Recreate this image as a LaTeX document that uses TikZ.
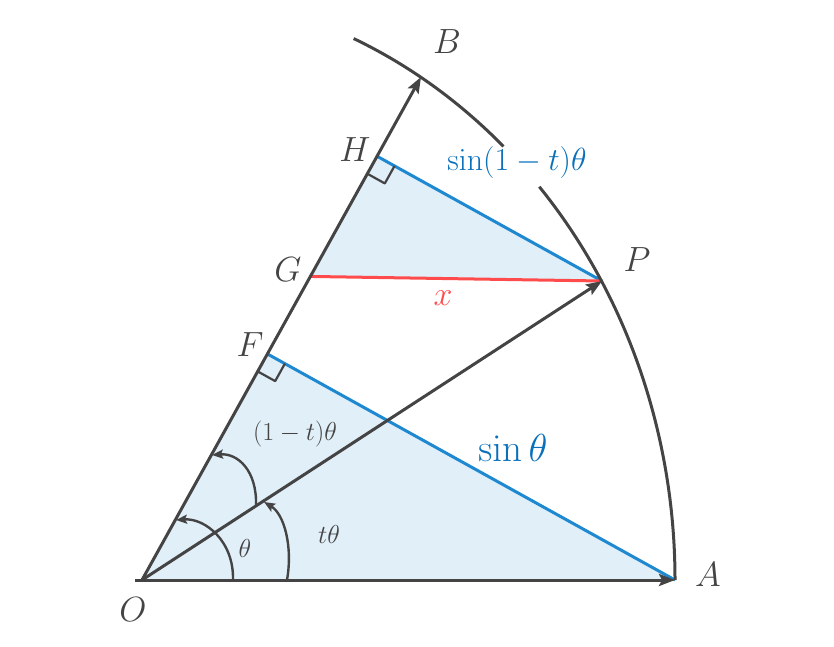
\documentclass[tikz,border=0pt]{standalone}
\usepackage{fix-cm}
\usepackage{amsmath}
\usetikzlibrary{arrows.meta,calc}

\definecolor{linegray}{HTML}{444444}
\definecolor{lineblue}{HTML}{1E88D0}
\definecolor{textblue}{HTML}{0A70BA}
\definecolor{linered}{HTML}{FF4B4B}
\definecolor{shadeblue}{HTML}{E1EFF9}

\tikzset{
	bigtip/.style={-{Stealth[length=16pt, width=12pt, inset=3pt]}},
	smalltip/.style={-{Stealth[length=11pt, width=9pt, inset=2pt]}},
	ptlabel/.style={text=linegray, font=\fontsize{35}{40}\selectfont},
	anglabel/.style={text=linegray, font=\fontsize{26}{30}\selectfont}
}

\begin{document}
\begin{tikzpicture}[x=1pt, y=1pt, line join=round]
		\useasboundingbox (0,0) rectangle (834,646);
		
		% points
		\coordinate (O) at (142,66);
		\coordinate (A) at (675,66);
		\coordinate (B) at (421,569);
		\coordinate (P) at (602,365);
		\coordinate (F) at ($(O)!(A)!(B)$);
		\coordinate (H) at ($(O)!(P)!(B)$);
		\coordinate (G) at ($(O)!0.6035!(B)$);
		\coordinate (Ostart) at (135,66);
		
		% shaded triangles
		\path[fill=shadeblue] (O) -- (F) -- (A) -- cycle;
		\path[fill=shadeblue] (H) -- (P) -- (G) -- cycle;
		
		% perpendiculars
		\draw[lineblue, line width=3pt] (F) -- (A);
		\draw[lineblue, line width=3pt] (H) -- (P);
		\draw[linered, line width=3pt] (G) -- (P);
		
		% right angle marks
		\coordinate (f1) at ($(F)!20pt!(O)$);
		\coordinate (f2) at ($(F)!20pt!(A)$);
		\draw[linegray, line width=2.2pt] (f1) -- ($(f1)+(f2)-(F)$) -- (f2);
		\coordinate (h1) at ($(H)!20pt!(O)$);
		\coordinate (h2) at ($(H)!20pt!(P)$);
		\draw[linegray, line width=2.2pt] (h1) -- ($(h1)+(h2)-(H)$) -- (h2);
		
		% unit arc (split round the label)
		\draw[linegray, line width=3pt] (O) ++(66.6:533 and 590) arc[start angle=66.6, end angle=47.3, x radius=533, y radius=590];
		\draw[linegray, line width=3pt] (O) ++(41.8:533 and 590) arc[start angle=41.8, end angle=0, x radius=533, y radius=590];
		
		% vectors
		\draw[linegray, line width=3pt, bigtip] (Ostart) -- (A);
		\draw[linegray, line width=3pt, bigtip] (O) -- (B);
		\draw[linegray, line width=3pt, bigtip] (O) -- (P);
		
		% angle arcs
		\draw[linegray, line width=2.4pt, smalltip] (233,66) .. controls (234,105) and (205,128) .. (176,126);
		\draw[linegray, line width=2.4pt, smalltip] (287,66) .. controls (293,100) and (284,132) .. (264,144);
		\draw[linegray, line width=2.4pt, smalltip] (256,141) .. controls (257,175) and (238,193) .. (212,191);
		
		% point labels
		\node[ptlabel] (Olbl) at (133,36) {$O$};
		\node[ptlabel] (Albl) at (708,71) {$A$};
		\node[ptlabel] (Blbl) at (447,604) {$B$};
		\node[ptlabel] (Plbl) at (637,386) {$P$};
		\node[ptlabel] (Hlbl) at (355,496) {$H$};
		\node[ptlabel] (Glbl) at (288,376) {$G$};
		\node[ptlabel] (Flbl) at (250,301) {$F$};
		
		% lengths
		\node[text=linered, font=\fontsize{34}{40}\selectfont] (xlbl) at (443,348) {$x$};
		\node[text=textblue, font=\fontsize{32}{38}\selectfont] (toplbl) at (517,483) {$\sin(1-t)\theta$};
		\node[text=textblue, font=\fontsize{39}{46}\selectfont] (sinlbl) at (513,198) {$\sin\theta$};
		
		% angles
		\node[anglabel] (thlbl) at (245,98) {$\theta$};
		\node[anglabel] (tthlbl) at (329,112) {$t\theta$};
		\node[anglabel] (restlbl) at (295,212) {$(1-t)\theta$};
	\end{tikzpicture}
\end{document}
